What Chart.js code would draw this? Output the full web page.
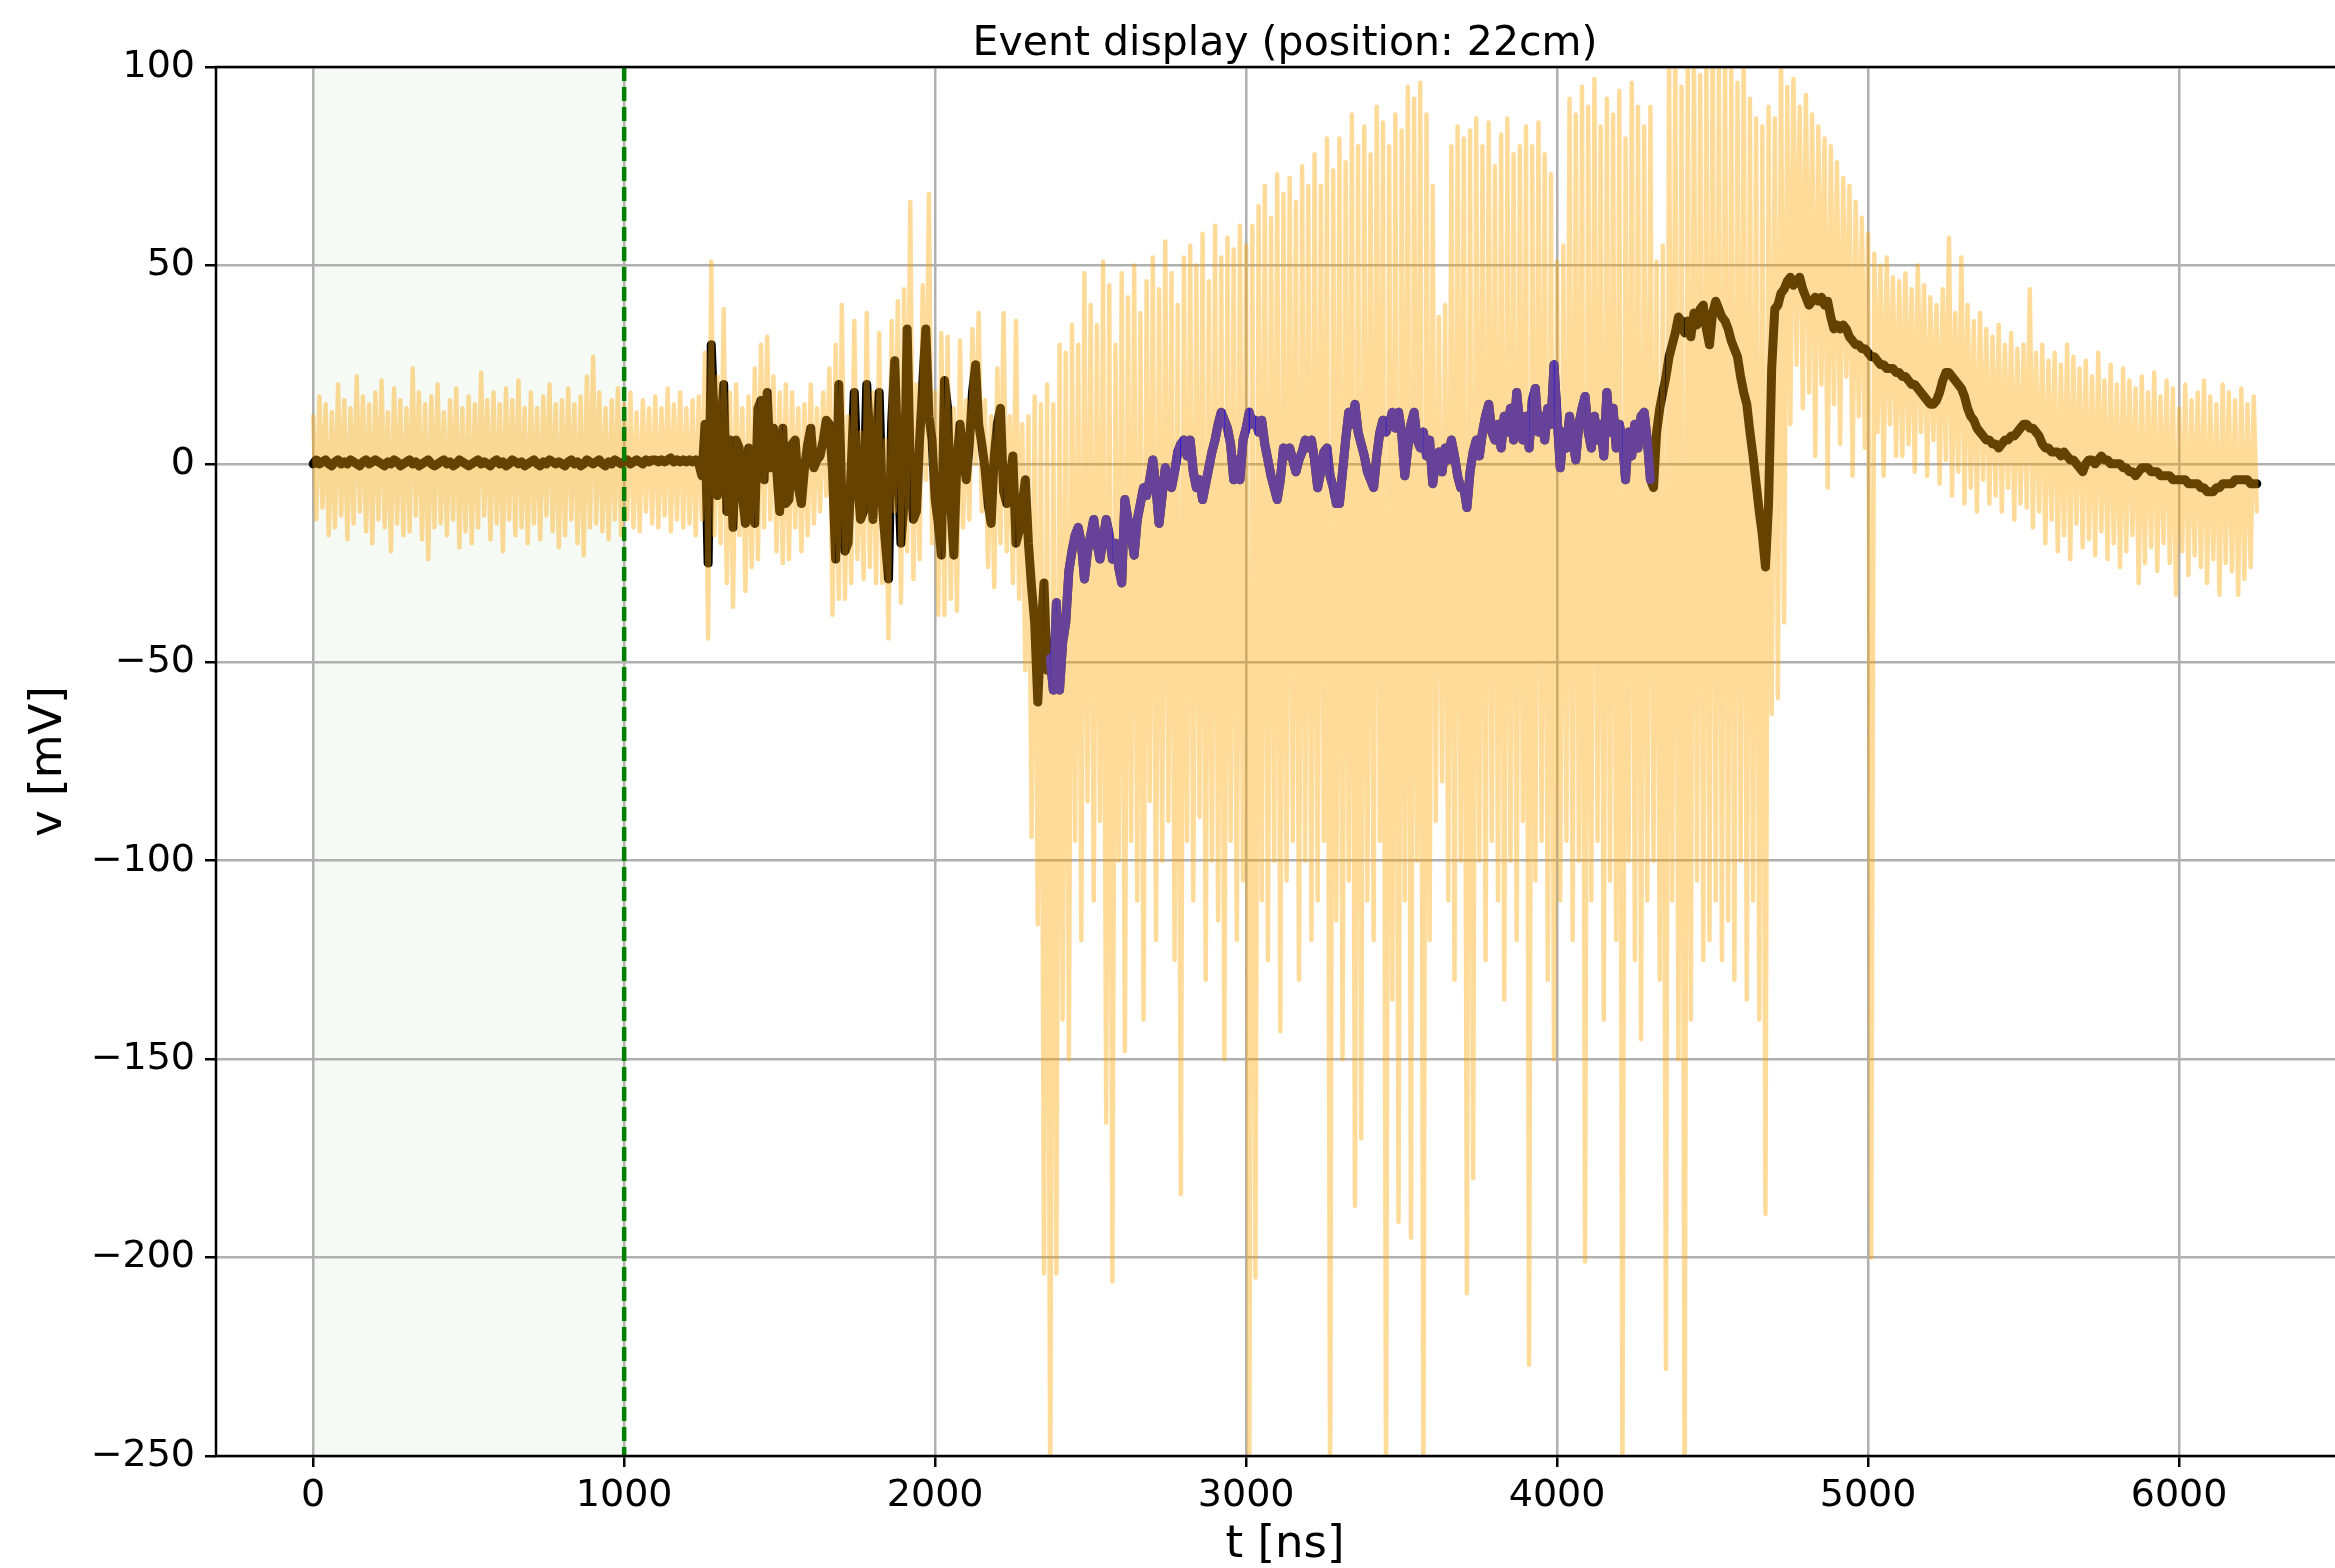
<!DOCTYPE html>
<html>
<head>
<meta charset="utf-8">
<title>Event display</title>
<script src="https://cdn.jsdelivr.net/npm/chart.js@4/dist/chart.umd.min.js"></script>
<style>
  html, body { margin: 0; padding: 0; background: #fff; overflow: hidden; }
  #wrap { width: 2335px; height: 1568px; overflow: hidden; }
  canvas { display: block; }
</style>
</head>
<body>
<div id="wrap"><canvas id="eventChart" width="2360" height="1568"></canvas></div>
<script>
// Pas d'échantillonnage des deux traces (ns)
const sampleStep = 10;

// Signal brut (mV), un point toutes les 10 ns, de 0 à 6250 ns
const rawSignal = [
  12,-14,17,-11,15,-18,13,-16,20,-13,
  16,-19,14,-15,22,-12,17,-17,15,-20,
  18,-14,21,-16,13,-22,19,-15,16,-18,
  14,-17,24,-13,18,-19,15,-24,17,-16,
  20,-15,13,-18,16,-14,19,-21,14,-17,
  17,-20,15,-16,23,-13,16,-19,18,-15,
  15,-22,19,-14,16,-18,21,-16,14,-20,
  18,-15,14,-19,17,-13,20,-17,15,-21,
  16,-18,19,-14,15,-20,17,-23,22,-16,
  27,-15,18,-17,14,-19,16,-14,19,-18,
  15,-14,18,-16,13,-17,16,-12,14,-15,
  17,-16,14,-13,19,-17,15,-14,18,-16,
  14,-15,16,-18,17,-14,28,-44,51,-18,
  22,-20,39,-30,18,-36,20,-18,14,-32,
  17,-26,24,-24,30,-16,32,-14,22,-22,
  18,-25,20,-24,18,-16,14,-22,15,-18,
  20,-15,14,-12,18,-8,24,-38,30,-34,
  40,-34,12,-30,36,-24,8,-29,38,-26,
  18,-30,33,-30,6,-44,36,-12,41,-35,
  44,-22,66,-29,20,-24,45,-4,68,-20,
  18,-38,33,-38,32,-34,14,-37,31,-16,
  16,-14,34,0,38,-12,16,-26,12,-31,
  24,-20,38,-22,12,-30,36,-34,10,-52,
  12,-94,17,-116,15,-204,20,-262,15,-204,
  30,-140,28,-150,35,-95,30,-120,48,-85,
  40,-110,35,-90,51,-166,45,-206,30,-100,
  48,-148,42,-95,50,-110,38,-140,46,-85,
  52,-120,44,-100,56,-90,48,-125,40,-184,
  52,-95,55,-110,50,-89,58,-130,46,-100,
  60,-115,52,-150,57,-95,54,-120,60,-105,
  55,-262,60,-205,65,-110,70,-125,62,-100,
  73,-143,68,-105,72,-95,66,-130,75,-100,
  70,-120,78,-110,70,-95,82,-262,74,-115,
  82,-150,76,-105,88,-187,80,-170,85,-110,
  78,-120,90,-95,86,-262,80,-135,88,-191,
  84,-110,95,-195,92,-100,96,-262,88,-120,
  70,-90,37,-80,40,-110,80,-130,85,-100,
  82,-209,84,-180,87,-100,80,-125,86,-95,
  75,-110,83,-135,87,-100,78,-120,80,-90,
  85,-227,80,-105,86,-95,78,-130,73,-150,
  51,-110,55,-95,92,-120,88,-100,95,-201,
  90,-110,97,-95,85,-140,92,-105,88,-120,
  94,-262,82,-100,96,-125,90,-145,85,-110,
  90,-100,51,-130,55,-228,105,-110,108,-150,
  95,-262,104,-140,110,-105,98,-125,106,-120,
  110,-110,100,-125,106,-115,102,-130,96,-100,
  108,-135,92,-110,87,-140,85,-189,90,-63,
  87,-59,104,-40,95,10,97,25,90,14,
  93,18,88,2,85,20,82,-6,80,15,
  76,5,72,22,70,-3,66,12,62,4,
  58,-200,53,8,50,-3,52,10,47,2,
  46,2,48,5,44,-2,50,8,45,-3,
  42,6,40,-5,44,1,57,-8,38,-2,
  52,-10,40,-6,36,-12,38,-4,34,-10,
  32,-8,35,-12,30,-6,33,-14,29,-10,
  30,-11,44,-16,28,-12,30,-20,26,-14,
  28,-22,25,-18,30,-24,27,-15,24,-21,
  26,-19,22,-23,28,-17,21,-24,25,-20,
  20,-26,24,-22,21,-18,19,-30,22,-25,
  18,-21,23,-27,17,-20,21,-25,19,-33,
  14,-22,20,-28,16,-23,18,-26,21,-30,
  17,-24,15,-33,20,-25,18,-27,16,-33,
  19,-29,15,-26,17,-12
];

// Signal filtré (mV), même échantillonnage
const filteredSignal = [
  0,1,0,0.5,1,0,-0.5,0.5,1,0,
  0.5,0,1,0.5,0,-0.5,0.5,1,0,0.5,
  1,0.5,0,-0.5,0.5,0,1,0.5,-0.5,0,
  0.5,1,0,0.5,-0.5,0,0.5,1,0,-0.5,
  0,0.5,1,0,0.5,-0.5,0,1,0.5,0,
  -0.5,0,0.5,1,0,0.5,0,-0.5,0.5,1,
  0,0.5,-0.5,0,1,0.5,0,0.5,-0.5,0,
  0.5,1,0,-0.5,0.5,0,1,0.5,0,0.5,
  0,-0.5,0.5,1,0,0.5,-0.5,0,1,0.5,
  0,0.5,1,0,-0.5,0.5,0,1,0.5,0,
  0.5,1,0,0.5,1,0.5,0,1,0.5,1,
  1,0.5,1,0.5,1,1.5,0.5,1,0.5,1,
  0.5,1,0.5,1,0,-3,10,-25,30,10,
  -8,8,20,-12,6,-16,6,4,-8,-15,
  4,-12,-15,14,16,-4,18,-1,9,-1,
  -12,9,-10,-9,5,6,-6,-10,-1,5,
  9,-1,1,2,6,11,10,-2,-24,20,
  -9,-22,-20,-1,18,-4,-14,-12,20,6,
  -14,5,18,-10,-20,-29,10,26,2,-20,
  -10,34,-1,-14,-12,6,20,34,12,6,
  -9,-15,-23,21,14,-10,-23,1,10,2,
  -4,5,18,25,10,5,-1,-10,-15,2,
  10,14,-7,-10,-4,2,-20,-17,-10,-4,
  -20,-31,-40,-60,-43,-30,-52,-49,-57,-35,
  -57,-45,-40,-27,-22,-18,-16,-20,-29,-22,
  -18,-14,-20,-24,-19,-14,-18,-24,-20,-26,
  -30,-9,-14,-18,-23,-14,-10,-6,-8,-4,
  1,-6,-15,-8,-1,-4,-6,-2,3,5,
  6,2,6,-2,-6,-4,-9,-5,-1,3,
  6,10,13,11,9,5,-4,1,-4,6,
  9,13,10,11,8,11,5,1,-3,-6,
  -9,-4,4,2,4,1,-2,1,3,6,
  4,6,1,-6,-2,3,4,-3,-6,-10,
  -10,-2,6,13,10,15,8,5,2,-2,
  -4,-6,2,8,11,8,10,13,9,13,
  8,-3,4,10,13,6,4,8,2,6,
  -5,1,3,-2,4,1,6,2,-3,-6,
  -6,-11,-2,3,6,2,8,12,15,8,
  6,10,4,12,8,14,6,18,10,6,
  12,4,16,19,8,12,6,14,10,25,
  12,-1,8,4,12,6,1,10,14,17,
  8,4,12,6,10,2,18,8,14,4,
  10,6,-4,8,2,10,4,12,13,6,
  -4,-6,8,14,18,22,27,30,33,37,
  36,33,36,32,38,35,39,40,34,30,
  38,41,39,37,36,34,31,29,27,22,
  18,15,8,2,-5,-12,-18,-26,-10,24,
  39,40,43,44,46,47,45,46,47,44,
  42,40,41,42,41,42,40,41,37,34,
  35,34,35,34,32,31,30,30,29,29,
  28,27,27,26,25,25,24,24,24,23,
  23,22,22,21,20,20,19,18,17,16,
  15,15,16,18,21,23,23,22,21,20,
  19,17,14,12,11,9,8,7,6,6,
  5,5,4,5,6,6,7,7,8,9,
  10,10,9,9,8,7,5,4,4,3,
  3,3,2,3,2,1,1,0,-1,-2,
  0,1,1,0,1,2,1,1,0,0,
  0,0,-1,-1,-2,-2,-3,-2,-1,-1,
  -1,-2,-2,-2,-3,-3,-3,-3,-4,-4,
  -4,-4,-4,-5,-5,-5,-5,-6,-6,-7,
  -7,-7,-6,-6,-5,-5,-5,-5,-4,-4,
  -4,-4,-4,-5,-5,-5
];

// Fenêtres (ns)
const baselineWindow = [0, 1000];
const fitWindow = [2370, 4300];

// Graduations
const xTicks = [0, 1000, 2000, 3000, 4000, 5000, 6000];
const yTicks = [-250, -200, -150, -100, -50, 0, 50, 100];

const chartTitle = 'Event display (position: 22cm)';
const FONT = 'DejaVu Sans';

function toPoints(values) {
    return values.map((v, i) => ({ x: i * sampleStep, y: v }));
}

// Moins typographique comme matplotlib
function fmtTick(v) {
    return v < 0 ? '\u2212' + Math.abs(v) : String(v);
}

const rawPoints = toPoints(rawSignal);
const filteredPoints = toPoints(filteredSignal);
const fitPoints = filteredPoints.filter(p => p.x >= fitWindow[0] && p.x <= fitWindow[1]);

// Zone de ligne de base, trait vertical, cadre et titre centré sur les axes
const eventDecor = {
    id: 'eventDecor',
    beforeDraw(chart) {
        const { ctx, chartArea, scales: { x } } = chart;
        const x0 = x.getPixelForValue(baselineWindow[0]);
        const x1 = x.getPixelForValue(baselineWindow[1]);
        ctx.save();
        ctx.fillStyle = 'rgba(0,128,0,0.04)';
        ctx.fillRect(x0, chartArea.top, x1 - x0, chartArea.bottom - chartArea.top);
        ctx.restore();
    },
    afterDatasetsDraw(chart) {
        const { ctx, chartArea, scales: { x } } = chart;
        const xe = x.getPixelForValue(baselineWindow[1]);
        ctx.save();
        ctx.strokeStyle = 'green';
        ctx.lineWidth = 4.5;
        ctx.setLineDash([14, 6]);
        ctx.beginPath();
        ctx.moveTo(xe, chartArea.top);
        ctx.lineTo(xe, chartArea.bottom);
        ctx.stroke();

        ctx.setLineDash([]);
        ctx.strokeStyle = '#000';
        ctx.lineWidth = 2.5;
        ctx.beginPath();
        ctx.moveTo(chartArea.left, chartArea.bottom);
        ctx.lineTo(chartArea.left, chartArea.top);
        ctx.lineTo(chartArea.right, chartArea.top);
        ctx.lineTo(chartArea.right, chartArea.bottom);
        ctx.closePath();
        ctx.stroke();

        ctx.fillStyle = '#000';
        ctx.font = '41px "' + FONT + '"';
        ctx.textAlign = 'center';
        ctx.textBaseline = 'middle';
        ctx.fillText(chartTitle, (chartArea.left + chartArea.right) / 2, 44);
        ctx.restore();
    }
};

const ctx = document.getElementById('eventChart').getContext('2d');
new Chart(ctx, {
    type: 'line',
    data: {
        datasets: [
            {
                label: 'raw',
                data: rawPoints,
                borderColor: 'rgba(255,165,0,0.4)',
                borderWidth: 4.5,
                borderJoinStyle: 'round',
                borderCapStyle: 'round',
                pointRadius: 0,
                tension: 0
            },
            {
                label: 'fit',
                data: fitPoints,
                borderColor: '#0000ff',
                borderWidth: 9,
                borderJoinStyle: 'round',
                borderCapStyle: 'round',
                pointRadius: 0,
                tension: 0
            },
            {
                label: 'filtered',
                data: filteredPoints,
                borderColor: '#000000',
                borderWidth: 9,
                borderJoinStyle: 'round',
                borderCapStyle: 'round',
                pointRadius: 0,
                tension: 0
            }
        ]
    },
    options: {
        responsive: false,
        animation: false,
        events: [],
        parsing: false,
        normalized: true,
        layout: { padding: { left: 0, right: 6, top: 67, bottom: 0 } },
        plugins: {
            legend: { display: false },
            tooltip: { enabled: false },
            title: { display: false }
        },
        scales: {
            x: {
                type: 'linear',
                min: -312.5,
                max: 6562.5,
                afterBuildTicks: s => { s.ticks = xTicks.map(v => ({ value: v })); },
                afterFit: s => { s.height = 112; },
                grid: { color: '#b0b0b0', lineWidth: 2.5, tickColor: '#000', tickWidth: 2.5, tickLength: 11 },
                border: { display: false },
                ticks: {
                    color: '#000',
                    font: { family: FONT, size: 38, lineHeight: 1 },
                    padding: 10,
                    maxRotation: 0,
                    autoSkip: false,
                    callback: v => fmtTick(v)
                },
                title: {
                    display: true,
                    text: 't [ns]',
                    color: '#000',
                    font: { family: FONT, size: 45, lineHeight: 1 },
                    padding: { top: 0, bottom: 0 }
                }
            },
            y: {
                type: 'linear',
                min: -250,
                max: 100,
                afterBuildTicks: s => { s.ticks = yTicks.map(v => ({ value: v })); },
                afterFit: s => { s.width = 216; },
                grid: { color: '#b0b0b0', lineWidth: 2.5, tickColor: '#000', tickWidth: 2.5, tickLength: 11 },
                border: { display: false },
                ticks: {
                    color: '#000',
                    font: { family: FONT, size: 38, lineHeight: 1 },
                    padding: 10,
                    callback: v => fmtTick(v)
                },
                title: {
                    display: true,
                    text: 'v [mV]',
                    color: '#000',
                    font: { family: FONT, size: 45, lineHeight: 1 },
                    padding: { top: 26.5, bottom: 0 }
                }
            }
        }
    },
    plugins: [eventDecor]
});
</script>
</body>
</html>
